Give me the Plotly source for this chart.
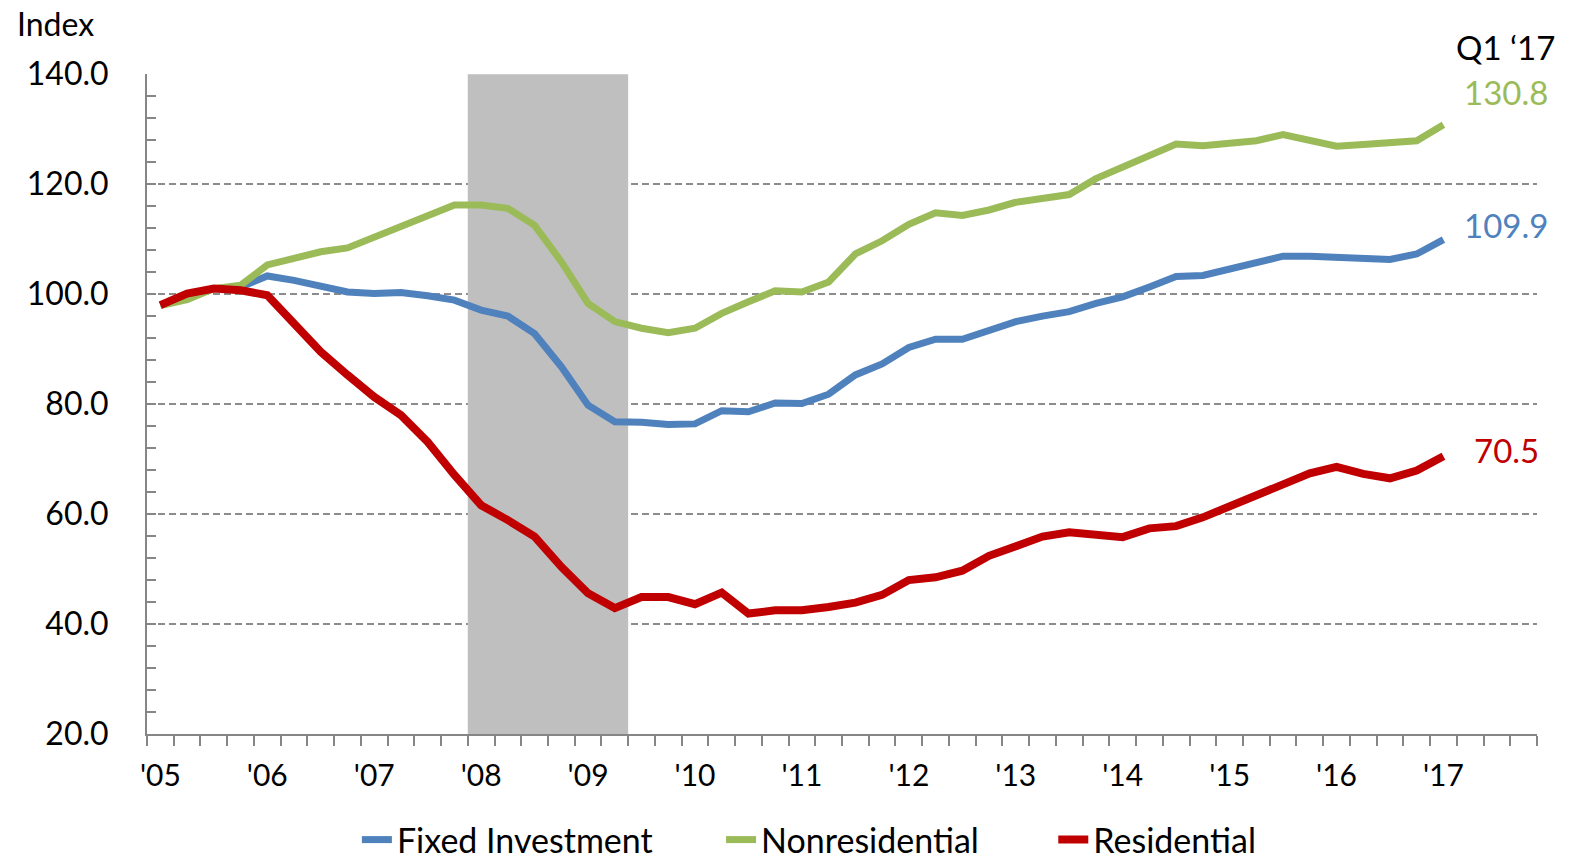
import plotly.graph_objects as go

# quarterly index levels, Q1 2005 .. Q1 2017
quarters = [f"{y}Q{q}" for y in range(2005, 2018) for q in range(1, 5)][:49]

fixed_investment = [
    98.0, 99.5, 101.0, 101.3, 103.3, 102.5, 101.5, 100.4, 100.1, 100.3,
    99.7, 98.9, 97.1, 96.0, 92.8, 86.8, 79.8, 76.8, 76.7, 76.3,
    76.4, 78.8, 78.6, 80.2, 80.1, 81.8, 85.3, 87.3, 90.3, 91.8,
    91.8, 93.3, 95.0, 96.0, 96.8, 98.3, 99.5, 101.3, 103.2, 103.4,
    104.5, 105.6, 106.9, 106.9, 106.6, 106.3, 106.3, 107.3, 109.9,
]
nonresidential = [
    97.9, 99.0, 101.0, 101.6, 105.3, 106.6, 107.7, 108.4, 110.4, 112.5,
    114.4, 116.2, 116.2, 115.6, 112.5, 105.9, 98.3, 95.0, 93.8, 93.0,
    93.8, 96.5, 98.6, 100.6, 100.4, 102.2, 107.3, 109.7, 112.7, 114.8,
    114.3, 115.3, 116.7, 117.5, 118.1, 121.0, 123.1, 124.9, 127.3, 127.0,
    127.4, 127.9, 129.0, 128.0, 126.9, 127.2, 127.7, 127.9, 130.8,
]
residential = [
    98.0, 100.1, 101.0, 100.7, 99.8, 94.7, 89.5, 85.3, 81.3, 78.0,
    73.1, 67.1, 61.6, 58.9, 55.9, 50.4, 45.6, 42.9, 44.9, 44.9,
    43.6, 45.7, 41.9, 42.5, 42.5, 43.1, 43.9, 45.3, 48.0, 48.5,
    49.7, 52.4, 54.2, 55.9, 56.7, 56.1, 55.8, 57.4, 57.8, 59.4,
    61.3, 63.5, 65.4, 67.4, 68.6, 67.3, 66.5, 67.9, 70.5,
]
year_labels = ["'05", "'06", "'07", "'08", "'09", "'10", "'11", "'12",
               "'13", "'14", "'15", "'16", "'17"]
recession = ("2008Q1", "2009Q2")

FONT = "Lato"
x = list(range(len(quarters)))

# name, values, colour, width, legend id, legend x, end label y
series = [
    ("Fixed Investment", fixed_investment, "#4F81BD", 7, "legend", 0.151, 112.5),
    ("Nonresidential", nonresidential, "#9BBB59", 7, "legend2", 0.413, 136.7),
    ("Residential", residential, "#C00000", 8, "legend3", 0.652, 71.6),
]

fig = go.Figure()
for name, vals, color, w, leg, lx, ly in series:
    fig.add_trace(go.Scatter(
        x=x, y=vals, name=name, mode="lines",
        line=dict(color=color, width=w),
        legend=leg, hoverinfo="skip",
    ))

# recession shading
r0 = quarters.index(recession[0]) - 0.5
r1 = quarters.index(recession[1]) + 0.5
fig.add_shape(type="rect", xref="x", yref="y", x0=r0, x1=r1, y0=20, y1=140,
              fillcolor="#BFBFBF", line_width=0, layer="between")

# end-point labels
for name, vals, color, w, leg, lx, ly in series:
    fig.add_annotation(x=50.35, y=ly, xref="x", yref="y",
                       text=f"{vals[-1]:.1f}", showarrow=False,
                       xanchor="center", yanchor="middle",
                       font=dict(family=FONT, size=33, color=color))
fig.add_annotation(x=0.977, y=1.041, xref="paper", yref="paper",
                   text="Q1 \u201817", showarrow=False,
                   xanchor="center", yanchor="middle",
                   font=dict(family=FONT, size=33, color="black"))
fig.add_annotation(x=-0.095, y=1.076, xref="paper", yref="paper", text="Index",
                   showarrow=False, xanchor="left", yanchor="middle",
                   font=dict(family=FONT, size=32, color="black"))

fig.update_xaxes(
    range=[-0.5, 51.5],
    tickmode="array",
    tickvals=x[::4],
    ticktext=year_labels,
    ticks="outside", ticklen=0,
    ticklabelstandoff=14,
    tickfont=dict(family=FONT, size=30, color="black"),
    showgrid=False, zeroline=False, automargin=False,
    showline=True, linecolor="#868686", linewidth=2,
    minor=dict(ticks="outside", ticklen=10, tickcolor="#868686", tickwidth=2,
               tickmode="linear", tick0=-0.5, dtick=1, showgrid=False),
)
fig.update_yaxes(
    range=[20, 140.03],
    tickmode="linear", tick0=20, dtick=20,
    tickformat=".1f",
    ticks="inside", ticklen=9, tickcolor="#868686", tickwidth=2,
    ticklabelstandoff=30,
    tickfont=dict(family=FONT, size=32, color="black"),
    showgrid=True, gridcolor="#8C8C8C", gridwidth=2, griddash="7px,4px",
    zeroline=False, automargin=False,
    showline=True, linecolor="#868686", linewidth=2,
    minor=dict(ticks="inside", ticklen=9, tickcolor="#868686", tickwidth=2,
               tickmode="linear", tick0=20, dtick=4, showgrid=False),
)

# the page body has an 8px margin, so the figure is 8px smaller on each side
legend_style = dict(orientation="h", xanchor="left", y=-0.1606, yanchor="middle",
                    font=dict(family=FONT, size=34, color="black"),
                    bgcolor="rgba(0,0,0,0)")
fig.update_layout(
    width=1566, height=852,
    margin=dict(l=139, r=37, t=66, b=126, autoexpand=False),
    paper_bgcolor="white", plot_bgcolor="white",
    font=dict(family=FONT, color="black"),
    showlegend=True,
    legend=dict(x=series[0][5], **legend_style),
    legend2=dict(x=series[1][5], **legend_style),
    legend3=dict(x=series[2][5], **legend_style),
)

fig.write_html("out.html")
